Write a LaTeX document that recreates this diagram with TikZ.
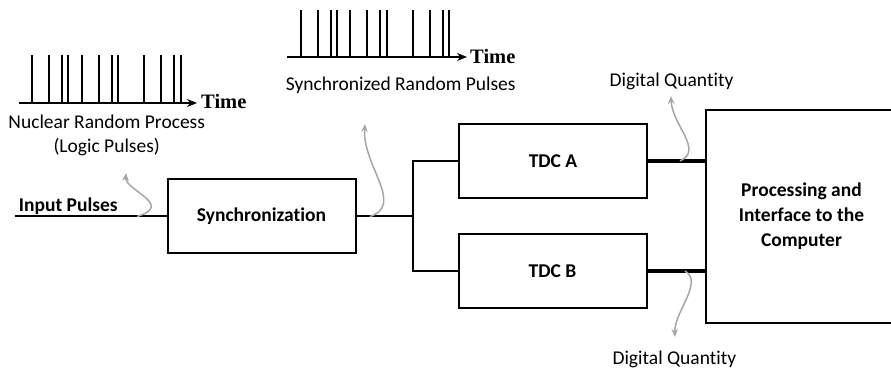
\documentclass[tikz,border=0pt]{standalone}
\usepackage{fontspec}
\setmainfont{Carlito}[RawFeature={-liga}]
\newfontfamily\timefont{Liberation Serif}
\usepackage{tikz}
\usetikzlibrary{arrows.meta}
\usetikzlibrary{positioning}
\tikzset{
	block/.style={draw, line width=2pt, minimum width=188pt, minimum height=74pt, inner sep=0pt,
		align=center, font=\fontsize{19.5}{25}\selectfont\bfseries},
	txt/.style={anchor=base, inner sep=0pt, font=\fontsize{19.5}{24}\selectfont},
	timetxt/.style={anchor=base west, inner sep=0pt, font=\fontsize{20.5}{24}\selectfont\timefont\bfseries},
	wire/.style={draw, line width=2pt},
	bus/.style={draw, line width=4pt},
	axis/.style={draw, line width=1.6pt, -{Stealth[length=10pt,width=8pt]}},
	pulse/.style={draw, line width=2pt},
	wave/.style={draw=gray!70, line width=1.5pt, -{Stealth[length=8pt,width=6.5pt]}},
}

\begin{document}
\begin{tikzpicture}[x=1pt, y=-1pt]
	\useasboundingbox (0,0) rectangle (891,371);
	% pulse trains
\begin{scope}[shift={(19,103)}]
	\coordinate (ax1s) at (0,0);
	\coordinate (ax1e) at (178,0);
	\draw[axis] (ax1s) -- (ax1e);
	\foreach \p in {13.3,30.3,42.7,49.3,62.7,80,93,99.3,125,142.3,155,161.7}
		\draw[pulse] (\p,0) -- (\p,-48);
	\node[timetxt] (time1) at ([xshift=4pt,yshift=-6pt]ax1e) {Time};
\end{scope}
\begin{scope}[shift={(287,57)}]
	\coordinate (ax2s) at (0,0);
	\coordinate (ax2e) at (180,0);
	\draw[axis] (ax2s) -- (ax2e);
	\foreach \p in {13.7,30.7,43.7,50.3,63.3,80.3,93,99.7,125.7,143,155.7,162.3}
		\draw[pulse] (\p,0) -- (\p,-47);
	\node[timetxt] (time2) at ([xshift=3pt,yshift=-6.3pt]ax2e) {Time};
\end{scope}
	% labels
	\node[txt] (nrp) at (106.7,128.3) {Nuclear Random Process};
	\node[txt] (logic) at (106.7,152.3) {(Logic Pulses)};
	\node[txt] (srp) at (400.7,90.7) {Synchronized Random Pulses};
	\node[txt, font=\fontsize{19.5}{24}\selectfont\bfseries] (inp) at (68.3,211.7) {Input Pulses};
	\node[txt] (dqa) at (671.5,86.7) {Digital Quantity};
	\node[txt] (dqb) at (674.4,364) {Digital Quantity};
	% blocks
	\node[block] (sync) at (261.5,216.5) {Synchronization};
	\node[block] (tdcA) at (553,161) {TDC A};
	\node[block] (tdcB) at (552.5,271) {TDC B};
	\node[block, draw=none, minimum width=189pt, minimum height=211pt] (proc) at (801.5,216.3)
		{Processing and\\Interface to the\\Computer};
	% the box runs off the right edge
	\draw[line width=2pt] ([xshift=30pt]proc.north east) -- (proc.north west)
		-- (proc.south west) -- ([xshift=30pt]proc.south east);
	% connections
	\coordinate (in) at (15,216.5);
	\coordinate (split) at (413,216.5);
	\draw[wire] (in) -- (sync.west);
	\draw[wire] (sync.east) -- (split) |- (tdcA.west);
	\draw[wire] (split) |- (tdcB.west);
	\draw[bus] (tdcA.east) -- (tdcA.east -| proc.west);
	\draw[bus] (tdcB.east) -- (tdcB.east -| proc.west);
	% gray pointers
	\coordinate (w1s) at (137,216.5);
	\coordinate (w1e) at (126,173);
	\coordinate (w2s) at (370,216.5);
	\coordinate (w2e) at (365,124);
	\coordinate (w3s) at (680,161);
	\coordinate (w3e) at (671,96);
	\coordinate (w4s) at (685,271);
	\coordinate (w4e) at (675,337);
	\draw[wave] (w1s) .. controls (175,205) and (125,190) .. (w1e);
	\draw[wave] (w2s) .. controls (405,205) and (362,165) .. (w2e);
	\draw[wave] (w3s) .. controls (704,150) and (672,125) .. (w3e);
	\draw[wave] (w4s) .. controls (704,282) and (674,312) .. (w4e);
\end{tikzpicture}
\end{document}
